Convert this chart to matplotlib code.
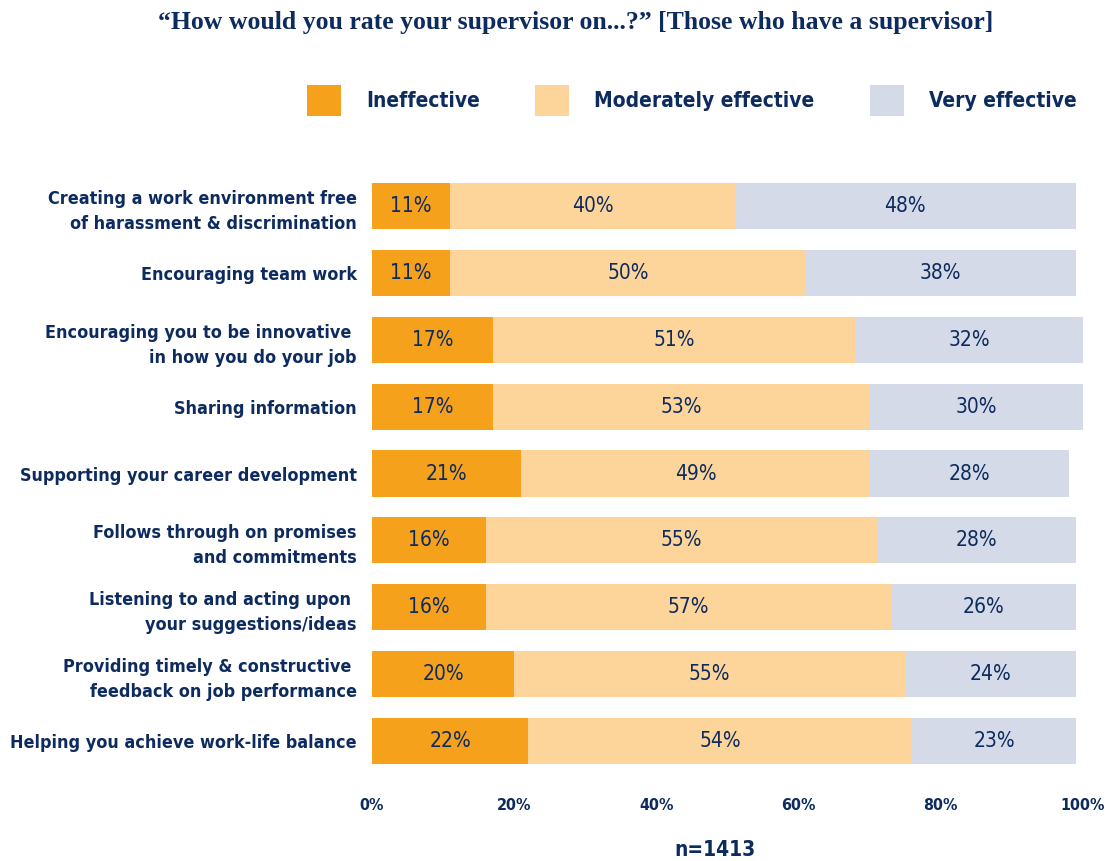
import matplotlib.pyplot as plt
import numpy as np

# survey items, top to bottom
items = [
    "Creating a work environment free\nof harassment & discrimination",
    "Encouraging team work",
    "Encouraging you to be innovative \nin how you do your job",
    "Sharing information",
    "Supporting your career development",
    "Follows through on promises\nand commitments",
    "Listening to and acting upon \nyour suggestions/ideas",
    "Providing timely & constructive \nfeedback on job performance",
    "Helping you achieve work-life balance",
]
ineffective = [11, 11, 17, 17, 21, 16, 16, 20, 22]
moderate = [40, 50, 51, 53, 49, 55, 57, 55, 54]
very = [48, 38, 32, 30, 28, 28, 26, 24, 23]
series_names = ["Ineffective", "Moderately effective", "Very effective"]
colors = ["#F5A11C", "#FDD59B", "#D4DAE7"]
navy = "#0D2B5E"

plt.rcParams['font.family'] = ['DejaVu Sans']
plt.rcParams['font.stretch'] = 'condensed'

fig = plt.figure(figsize=(11.09, 8.61), dpi=100)
ax = fig.add_axes([0.3354, 0.1007, 0.6412, 0.6987])

y = np.arange(len(items))
left = np.zeros(len(items))
for vals, name, c in zip([ineffective, moderate, very], series_names, colors):
    vals = np.array(vals)
    bars = ax.barh(y, vals, left=left, height=0.69, color=c, label=name)
    for b, v in zip(bars, vals):
        ax.text(b.get_x() + b.get_width() / 2, b.get_y() + b.get_height() / 2,
                f"{v}%", ha='center', va='center', fontsize=15, color=navy,
                fontstretch='condensed')
    left += vals

ax.set_ylim(len(items) - 0.5, -0.5)
ax.set_xlim(0, 100)
ax.set_yticks(y)
ax.set_yticklabels(items, fontsize=12.85, fontweight='bold', color=navy,
                   linespacing=1.5, fontstretch='condensed')
ax.set_xticks(np.arange(0, 101, 20))
ax.set_xticklabels([f"{t}%" for t in range(0, 101, 20)], fontsize=11.5,
                   fontweight='bold', color=navy, fontstretch='condensed')
ax.tick_params(axis='both', length=0)
ax.tick_params(axis='x', pad=17)
ax.tick_params(axis='y', pad=11)
for s in ax.spines.values():
    s.set_visible(False)

fig.legend(loc='center', bbox_to_anchor=(0.624, 0.883), ncol=3, frameon=False,
           handlelength=1.63, handleheight=1.9, handletextpad=1.2,
           columnspacing=2.65, labelcolor=navy,
           prop={'weight': 'bold', 'size': 15, 'stretch': 'condensed'})

fig.text(0.519, 0.974,
         "\u201cHow would you rate your supervisor on...?\u201d [Those who have a supervisor]",
         ha='center', va='center', fontsize=18.5, fontweight='bold', color=navy,
         family='Liberation Serif')
fig.text(0.645, 0.013, "n=1413", ha='center', va='center', fontsize=15,
         fontweight='bold', color=navy, fontstretch='condensed')

fig.savefig("out.png", dpi=100)
